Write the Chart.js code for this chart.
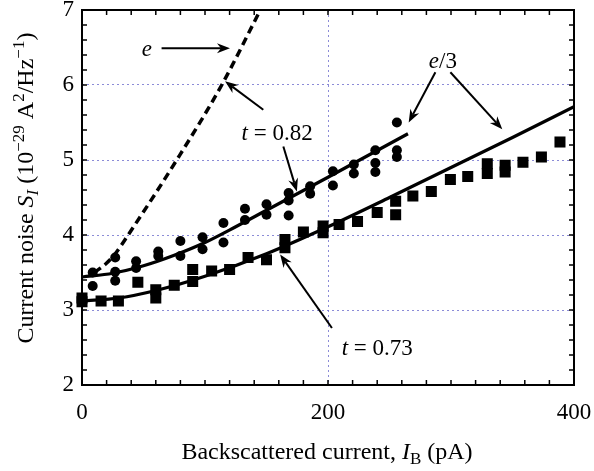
<!DOCTYPE html>
<html>
<head>
<meta charset="utf-8">
<script src="https://cdn.jsdelivr.net/npm/chart.js@4"></script>
<style>
  html, body { margin: 0; padding: 0; background: #fff; }
  #wrap { width: 594px; height: 471px; }
</style>
</head>
<body>
<div id="wrap"><canvas id="noiseChart" width="594" height="471"></canvas></div>
<script>
// measured points, t = 0.82 (circles)
const circleX = [8.7, 8.7, 27, 27, 27, 44, 44, 62, 62, 80, 80, 98, 98, 115, 115,
                 132.5, 132.5, 150, 150, 168, 168, 168, 185.5, 185.5, 204, 204,
                 221, 221, 238.5, 238.5, 238.5, 256, 256, 256];
const circleY = [3.50, 3.32, 3.70, 3.51, 3.39, 3.65, 3.56, 3.78, 3.72, 3.92, 3.72, 3.97, 3.81, 4.16, 3.90,
                 4.35, 4.20, 4.41, 4.27, 4.56, 4.46, 4.26, 4.65, 4.55, 4.85, 4.66,
                 4.94, 4.82, 5.13, 4.96, 4.84, 5.50, 5.13, 5.04];

// measured points, t = 0.73 (squares)
const squareX = [0, 0, 15.5, 29.6, 45.4, 60, 60, 75, 90, 90, 105.4, 120, 135, 150,
                 165, 165, 180, 196, 196, 209, 224, 240, 255, 255, 269, 284, 299.5,
                 313.6, 329.5, 329.5, 344, 344, 358.5, 373.5, 388.6];
const squareY = [3.16, 3.11, 3.12, 3.12, 3.37, 3.27, 3.16, 3.33, 3.54, 3.38, 3.52, 3.54, 3.70, 3.67,
                 3.94, 3.83, 4.04, 4.03, 4.12, 4.14, 4.18, 4.30, 4.45, 4.27, 4.52, 4.58, 4.74,
                 4.78, 4.95, 4.82, 4.93, 4.84, 4.97, 5.04, 5.24];

// e/3 fit curves and the e curve
const fitHiX = [0, 25, 50, 75, 100, 125, 150, 200, 265];
const fitHiY = [3.44, 3.49, 3.59, 3.73, 3.90, 4.11, 4.33, 4.77, 5.35];
const fitLoX = [0, 30, 60, 100, 150, 200, 250, 300, 350, 400];
const fitLoY = [3.12, 3.16, 3.26, 3.45, 3.75, 4.11, 4.50, 4.90, 5.30, 5.71];
const eLineX = [10, 19, 27, 37.5, 77, 113.6, 145];
const eLineY = [3.50, 3.61, 3.75, 4.00, 5.00, 6.00, 7.00];

// axis ranges and labelled ticks
const xMin = 0, xMax = 400, xStep = 20, xLabels = [0, 200, 400];
const yMin = 2, yMax = 7, yStep = 0.2, yLabels = [2, 3, 4, 5, 6, 7];
const xGrid = [200];
const yGrid = [3, 4, 5, 6];

const SERIF = "'Liberation Serif', 'DejaVu Serif', serif";
const FS = 23;      // tick labels and annotations
const FS_T = 24;    // axis titles
const gridColor = 'rgba(110, 110, 205, 0.8)';

function pairs(xs, ys) {
    return xs.map((x, i) => ({ x: x, y: ys[i] }));
}
function near(v, list) {
    return list.some(t => Math.abs(t - v) < 1e-6);
}

// text runs: [text, style, shift]  style: 'r' roman, 'i' italic; shift: 0, 'sub', 'sup'
function runFont(r, fs) {
    const size = r[2] ? Math.round(fs * 0.7) : fs;
    return (r[1] === 'i' ? 'italic ' : '') + size + 'px ' + SERIF;
}
function drawRuns(ctx, runs, cx, baseY, fs) {
    let w = 0;
    runs.forEach(r => { ctx.font = runFont(r, fs); w += ctx.measureText(r[0]).width; });
    let x = cx - w / 2;
    ctx.textAlign = 'left';
    ctx.textBaseline = 'alphabetic';
    runs.forEach(r => {
        ctx.font = runFont(r, fs);
        let dy = 0;
        if (r[2] === 'sub') dy = 5;
        if (r[2] === 'sup') dy = -9;
        ctx.fillText(r[0], x, baseY + dy);
        x += ctx.measureText(r[0]).width;
    });
}

function drawArrow(ctx, x1, y1, x2, y2) {
    const ang = Math.atan2(y2 - y1, x2 - x1);
    const len = 13, half = 5, notch = 9;
    const c = Math.cos(ang), s = Math.sin(ang);
    ctx.beginPath();
    ctx.moveTo(x1, y1);
    ctx.lineTo(x2 - c * notch, y2 - s * notch);
    ctx.lineWidth = 2;
    ctx.stroke();
    ctx.beginPath();
    ctx.moveTo(x2, y2);
    ctx.lineTo(x2 - c * len - s * half, y2 - s * len + c * half);
    ctx.lineTo(x2 - c * notch, y2 - s * notch);
    ctx.lineTo(x2 - c * len + s * half, y2 - s * len - c * half);
    ctx.closePath();
    ctx.fill();
}

// annotations in data units
const labelsText = [
    { runs: [['e', 'i']], x: 52.8, y: 6.49 },
    { runs: [['t', 'i'], [' = 0.82', 'r']], x: 158.6, y: 5.38 },
    { runs: [['e', 'i'], ['/3', 'r']], x: 293.4, y: 6.33 },
    { runs: [['t', 'i'], [' = 0.73', 'r']], x: 240, y: 2.51 }
];
const arrows = [
    [64.7, 6.49, 120.3, 6.49],
    [147.4, 5.67, 116.3, 6.05],
    [163.7, 5.18, 174.7, 4.58],
    [287.3, 6.17, 265.6, 5.50],
    [299.5, 6.17, 341.7, 5.41],
    [203.2, 2.76, 161.1, 3.74]
];

const framePlugin = {
    id: 'frame',
    afterDatasetsDraw(chart) {
        const ctx = chart.ctx;
        const a = chart.chartArea;
        const xs = chart.scales.x, ys = chart.scales.y;
        ctx.save();
        ctx.strokeStyle = '#000';
        ctx.fillStyle = '#000';
        ctx.lineWidth = 2;
        ctx.strokeRect(a.left, a.top, a.right - a.left, a.bottom - a.top);
        // inward ticks on all four sides
        ctx.lineWidth = 1.5;
        ctx.beginPath();
        xs.ticks.forEach(t => {
            const px = xs.getPixelForValue(t.value);
            ctx.moveTo(px, a.bottom); ctx.lineTo(px, a.bottom - 5);
            ctx.moveTo(px, a.top); ctx.lineTo(px, a.top + 5);
        });
        ys.ticks.forEach(t => {
            const py = ys.getPixelForValue(t.value);
            ctx.moveTo(a.left, py); ctx.lineTo(a.left + 5, py);
            ctx.moveTo(a.right, py); ctx.lineTo(a.right - 5, py);
        });
        ctx.stroke();
        // arrows and labels
        arrows.forEach(ar => {
            drawArrow(ctx, xs.getPixelForValue(ar[0]), ys.getPixelForValue(ar[1]),
                xs.getPixelForValue(ar[2]), ys.getPixelForValue(ar[3]));
        });
        labelsText.forEach(l => {
            drawRuns(ctx, l.runs, xs.getPixelForValue(l.x), ys.getPixelForValue(l.y) + 8, FS);
        });
        ctx.restore();
    },
    afterDraw(chart) {
        const ctx = chart.ctx;
        ctx.save();
        ctx.fillStyle = '#000';
        drawRuns(ctx, [['Backscattered current, ', 'r'], ['I', 'i'], ['B', 'r', 'sub'], [' (pA)', 'r']], 327, 459, FS_T);
        ctx.translate(33, 188);
        ctx.rotate(-Math.PI / 2);
        drawRuns(ctx, [['Current noise ', 'r'], ['S', 'i'], ['I', 'i', 'sub'], [' (10', 'r'], ['\u221229', 'r', 'sup'],
            [' A', 'r'], ['2', 'r', 'sup'], ['/Hz', 'r'], ['\u22121', 'r', 'sup'], [')', 'r']], 0, 0, FS_T);
        ctx.restore();
    }
};

const ctx = document.getElementById('noiseChart').getContext('2d');
new Chart(ctx, {
    type: 'scatter',
    data: {
        datasets: [
            {
                label: 'e',
                type: 'line',
                data: pairs(eLineX, eLineY),
                borderColor: '#000',
                borderWidth: 3.5,
                borderDash: [8, 5],
                pointRadius: 0,
                cubicInterpolationMode: 'monotone',
                fill: false
            },
            {
                label: 'fit t=0.82',
                type: 'line',
                data: pairs(fitHiX, fitHiY),
                borderColor: '#000',
                borderWidth: 3.2,
                pointRadius: 0,
                cubicInterpolationMode: 'monotone',
                fill: false
            },
            {
                label: 'fit t=0.73',
                type: 'line',
                data: pairs(fitLoX, fitLoY),
                borderColor: '#000',
                borderWidth: 3.2,
                pointRadius: 0,
                cubicInterpolationMode: 'monotone',
                fill: false
            },
            {
                label: 't=0.82',
                data: pairs(circleX, circleY),
                pointStyle: 'circle',
                pointRadius: 5,
                backgroundColor: '#000',
                borderColor: '#000',
                borderWidth: 0,
                clip: false
            },
            {
                label: 't=0.73',
                data: pairs(squareX, squareY),
                pointStyle: 'rect',
                pointRadius: 7.8,
                backgroundColor: '#000',
                borderColor: '#000',
                borderWidth: 0,
                clip: false
            }
        ]
    },
    options: {
        responsive: false,
        animation: false,
        layout: { padding: { top: 10, right: 20, left: 0, bottom: 0 } },
        plugins: {
            legend: { display: false },
            tooltip: { enabled: false }
        },
        scales: {
            x: {
                type: 'linear',
                min: xMin,
                max: xMax,
                afterFit: s => { s.height = 86; s.paddingLeft = 0; s.paddingRight = 0; },
                border: { display: false, dash: [2, 3] },
                grid: {
                    drawTicks: false,
                    lineWidth: 1,
                    color: c => near(c.tick.value, xGrid) ? gridColor : 'rgba(0,0,0,0)'
                },
                ticks: {
                    stepSize: xStep,
                    autoSkip: false,
                    maxRotation: 0,
                    padding: 14,
                    color: '#000',
                    font: { family: SERIF, size: FS },
                    callback: v => near(v, xLabels) ? String(v) : ''
                }
            },
            y: {
                type: 'linear',
                min: yMin,
                max: yMax,
                afterFit: s => { s.width = 82; s.paddingTop = 0; s.paddingBottom = 0; },
                border: { display: false, dash: [2, 3] },
                grid: {
                    drawTicks: false,
                    lineWidth: 1,
                    color: c => near(c.tick.value, yGrid) ? gridColor : 'rgba(0,0,0,0)'
                },
                ticks: {
                    stepSize: yStep,
                    autoSkip: false,
                    padding: 8,
                    color: '#000',
                    font: { family: SERIF, size: FS },
                    callback: v => near(v, yLabels) ? String(Math.round(v)) : ''
                }
            }
        }
    },
    plugins: [framePlugin]
});
</script>
</body>
</html>
